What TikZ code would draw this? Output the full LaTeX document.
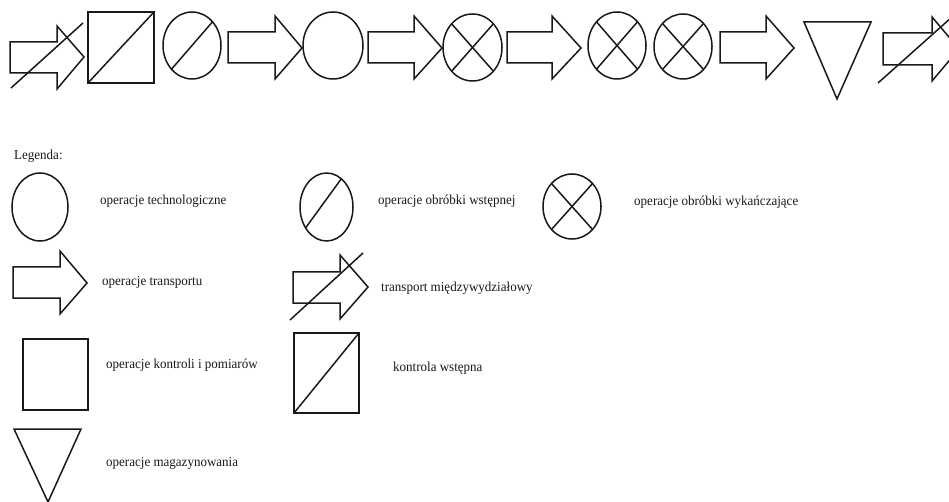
\documentclass[tikz,border=0pt]{standalone}
\usepackage{fontspec}
\setmainfont{Liberation Serif}[FakeStretch=0.95]
\tikzset{
  sym/.style={draw=black!90, line width=1.5pt, line join=miter},
  lbl/.style={anchor=base west, inner sep=0pt, font=\fontsize{13.7}{16}\selectfont, text=black!90}
}
\newcommand\arrowpath[8]{% x0 x1 bodytop bodybot headtop tipx tipy headbot
  \draw[sym] (#1,#3) -- (#2,#3) -- (#2,#5) -- (#6,#7) -- (#2,#8) -- (#2,#4) -- (#1,#4) -- cycle;}
\newcommand\xcircle[4]{% cx cy rx ry
  \draw[sym] (#1,#2) ellipse [x radius=#3, y radius=#4];
  \draw[sym] ({#1-0.707*#3},{#2-0.707*#4}) -- ({#1+0.707*#3},{#2+0.707*#4});
  \draw[sym] ({#1-0.707*#3},{#2+0.707*#4}) -- ({#1+0.707*#3},{#2-0.707*#4});}
\begin{document}
\begin{tikzpicture}[x=1pt,y=-1pt]
\useasboundingbox (0,0) rectangle (949,502);
% ---------- top row ----------
\arrowpath{10}{57}{42}{73}{26}{84}{57}{89}
\draw[sym] (11,88) -- (83,23);
\draw[sym] (88,12) rectangle (154,83);
\draw[sym] (88,83) -- (154,12);
\draw[sym] (192,45.5) ellipse [x radius=29, y radius=33.5];
\draw[sym] (171.5,69.2) -- (212.5,21.8);
\arrowpath{228}{275}{32}{63}{16}{302}{48}{79}
\draw[sym] (333,45.5) ellipse [x radius=30, y radius=33.5];
\arrowpath{368}{414}{32}{63}{16}{442}{48}{79}
\xcircle{472.5}{47.5}{29.5}{33.5}
\arrowpath{507}{552}{32}{63}{16}{581}{48}{79}
\xcircle{617}{45.5}{29}{33.5}
\xcircle{683}{46.5}{29}{32.5}
\arrowpath{720}{766}{32}{63}{16}{794}{48}{79}
\draw[sym] (804,22) -- (871,22) -- (837,99) -- cycle;
\arrowpath{883}{932}{33}{65}{17}{959}{49}{81}
\draw[sym] (878,83) -- (952,17);
% ---------- legend ----------
\node[lbl] (leg) at (14,160) {Legenda:};
\draw[sym] (40,207) ellipse [x radius=28, y radius=34];
\node[lbl] (t1) at (100,205) {operacje technologiczne};
\draw[sym] (326.5,207) ellipse [x radius=26.5, y radius=34];
\draw[sym] (305.6,227.9) -- (341.3,178.8);
\node[lbl] (t2) at (378,205) {operacje obróbki wstępnej};
\xcircle{572}{206.5}{29}{32.5}
\node[lbl] (t3) at (634,206) {operacje obróbki wykańczające};
\arrowpath{13}{60}{267}{298}{251}{87}{283}{314}
\node[lbl] (t4) at (102,286) {operacje transportu};
\arrowpath{293}{340}{272}{303}{255}{368}{287}{319}
\draw[sym] (290,320) -- (363,253);
\node[lbl] (t5) at (381,291) {transport międzywydziałowy};
\draw[sym] (23,339) rectangle (88,410);
\node[lbl] (t6) at (106,368) {operacje kontroli i pomiarów};
\draw[sym] (294,333) rectangle (359,413);
\draw[sym] (294,413) -- (359,333);
\node[lbl] (t7) at (393,371) {kontrola wstępna};
\draw[sym] (14,429) -- (81,429) -- (48,502) -- cycle;
\node[lbl] (t8) at (106,466) {operacje magazynowania};
\end{tikzpicture}
\end{document}
